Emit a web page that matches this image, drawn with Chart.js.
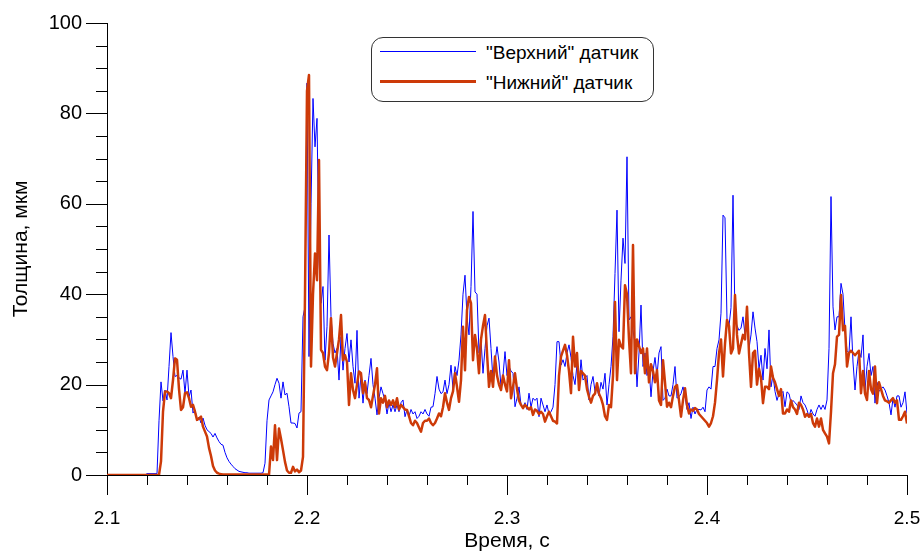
<!DOCTYPE html>
<html>
<head>
<meta charset="utf-8">
<script src="https://cdn.jsdelivr.net/npm/chart.js@4.4.1/dist/chart.umd.min.js"></script>
<style>
html,body{margin:0;padding:0;background:#fff;}
#wrap{position:relative;width:922px;height:552px;overflow:hidden;}
canvas{display:block;}
.lg{position:absolute;font-family:"Liberation Sans",Arial,sans-serif;color:#000;white-space:nowrap;}
#box{left:371px;top:37px;width:283px;height:65px;border:1px solid #333;border-radius:12px;box-sizing:border-box;background:#fff;}
.ln{position:absolute;left:380px;width:96px;}
.tx{font-size:19px;line-height:22px;height:22px;left:486px;}
</style>
</head>
<body>
<div id="wrap">
<canvas id="c" width="922" height="552"></canvas>
<div id="box" class="lg"></div>
<div class="ln" style="top:51px;height:1px;background:#0000ff;"></div>
<div class="ln" style="top:80px;height:3px;background:#cd3a08;"></div>
<div class="lg tx" style="top:42px;">"Верхний" датчик</div>
<div class="lg tx" style="top:72px;">"Нижний" датчик</div>
</div>
<script>
// time axis: 2.100 .. 2.500 s, step 0.001 s
const T_START = 2.1;
const T_STEP = 0.001;
const xTickLabels = ["2.1", "2.2", "2.3", "2.4", "2.5"];
const yTickLabels = ["0", "20", "40", "60", "80", "100"];

// "Верхний" датчик (upper sensor), мкм
const upperSensor = [
 0,0,0,0,0,0,0,0,0,0,
 0,0,0,0,0,0,0,0,0,0,
 0.3,0.3,0.3,0.3,0.3,0.3,12,20.6,16.4,18.8,
 16.6,24,31.5,26.2,21.8,22,21.5,21.2,23.2,18.1,
 23.2,17.3,18.8,13.7,14.4,12.2,12.8,11.5,12.6,11,
 10,9.6,9.2,8.4,9.2,8.2,7.4,6.8,6.6,5,
 3.8,3,2.4,1.9,1.4,1.1,0.8,0.7,0.6,0.5,
 0.5,0.4,0.4,0.4,0.4,0.4,0.4,0.4,0.5,2.6,
 12,16.6,17.5,18.4,20,21.4,20.3,17,20.6,17.7,
 18.1,15.1,11.5,11.5,11.4,10.4,13.7,14,35,37.2,
 86.7,26.2,60,83.3,72.6,78.9,47.6,38,41.7,25.4,
 32.8,53.1,35,29.1,27,28,21,30.6,23.2,28,
 31.3,25,29.9,24,20.3,32,17,22,15.9,21,
 18,22,25.8,20,17,13.3,17,19.5,18,16.6,
 13.5,16,14,15.5,14,15.5,14,16,16.6,12.9,
 14.5,13,14.5,13.5,14,12.5,13,14,13.5,14.5,
 13.5,13,15,15.1,18,21.8,19,18,18.4,21,
 18,20,24.3,19,24,22,25.4,31,40,44.2,
 35,31,41.7,58.3,40.5,40,27,30,22.5,28,
 33,34.7,28,21,25,28.4,25,19.5,22,27.3,
 22,24,23,22.5,15.1,17,19.5,15.5,15,16,
 14.5,18.1,15,17,16.5,17,12.9,17,15.5,14,
 15.5,13.5,14,15,20,29.5,29.5,24.3,25.5,24,
 27,28.8,26,22,20,24.5,19.5,25.5,21,21.5,
 22,16.6,20,21.8,18.5,19,17.5,20.5,19,22.5,
 15.5,20,24,30.6,44.6,58.6,31.7,43.1,52.4,46.8,
 70.4,34.3,35,32,29,19.5,27,37.6,24,27,
 22,24,17.3,23,26,22,27,28.4,16.5,17,
 19,17.5,17.5,20,24,17,17.3,18,19.5,17.5,
 14.5,16,12.5,15,13.5,14.5,14.5,14.4,15,14,
 18.8,19.5,19,24,24,28,29.9,35.8,57.5,56.9,
 34.3,33,37,61.9,34.5,33,32,32.5,35,31,
 33,28,31,36.1,32.5,29.5,23.5,26.5,21,28,
 23.5,32.1,19.5,22,18.5,16.5,18,18,18.5,15.1,
 18.4,18,16,16.5,16,15.5,14.5,17.5,16,15.5,
 14.4,12.9,14.5,13.5,13,14.5,15.5,14.5,15.5,14.5,
 16.6,28,61.6,37.2,32.1,35,35,42.4,40,32,
 27.5,27,35,25,18.8,24,27.5,26,31,18.8,
 24,26.9,22,24,15.9,20.5,18.5,19,19.5,18.8,
 17.5,16,13.3,17,15,17.5,17.5,15,16,18.4,
 13.6
];

// "Нижний" датчик (lower sensor), мкм
const lowerSensor = [
 0,0,0,0,0,0,0,0,0,0,
 0,0,0,0,0,0,0,0,0,0,
 0,0,0,0,0,0,0,3,14,18.4,
 18.5,18.1,17,21,25.8,25.5,19,14.4,15,18.1,
 18.3,17,15.1,15.5,14,12.2,12.5,12.9,10.7,9.6,
 8.5,6,4.2,2,1,0.5,0.3,0.2,0.1,0.1,
 0.1,0.1,0.1,0.1,0.1,0.1,0.1,0.1,0.1,0.1,
 0.1,0.1,0.1,0.1,0.1,0.1,0.1,0.1,0.1,0.1,
 0.1,0,6.3,3.3,11,3.3,10.3,8,5.5,2.9,
 1,0.5,0.5,1.8,0.8,1.2,0.6,1,4,40,
 85,88.5,24,40,49,43.1,69.7,27.7,27,24,
 23.2,27,34.7,26,24,27,30,35.4,25.4,26.5,
 25,15.5,22.5,18.8,17,20,22.9,22.5,18.1,20.5,
 17,16.6,15,17.5,20,23.6,13.6,17,16,17.5,
 15,16.5,15.5,16.5,15,17,14.5,15.5,15,14.5,
 14.4,13,11.5,11,12,11.5,10.5,9.6,11.5,12,
 12,12.5,11.5,11,11.5,12.5,13.6,13,15,18.1,
 16,14.4,17,18.5,22.5,19.5,16.2,21,32.8,23.2,
 36.5,39.4,38,25.4,31,28,22.5,30,33,35.4,
 27,19.5,23,19.5,26.2,22,20,18.8,22,20,
 18.5,25.4,17,19.5,22.5,19,16.5,15.5,14.8,15.5,
 15,14.5,15,13.3,14.5,14.2,13.5,14,13.5,11.8,
 13,14,13,12,11.8,11.4,22,26.2,27.5,28.8,
 26.5,23,18.1,30.6,24,27,18.8,23,22.5,22,
 19,17.3,16,17.5,18,20.3,18,17,15.5,13,
 12.2,15.5,15,22,38.3,21,29.9,28.5,28,42,
 40,30,22.5,50.9,22.5,30,28.5,27,28,22.5,
 28,20.5,24.5,23,20.5,23.2,16.5,15.5,25.4,20.5,
 15.1,16,15,17.5,19.5,19.9,16.5,12.9,16.5,19.2,
 15.5,13.6,14.5,14.2,14.8,14.5,13.5,13,12.5,12,
 11.5,10.7,11.5,13,16,21,26.9,30,21.8,29,
 34.3,33,26.9,28,39.8,31,26.9,29,31,30,
 37.2,27,19.5,27,27.5,20,23.5,21.5,15.9,19.5,
 19.5,19,24,21.5,20.5,19,17.5,19,13.6,13.6,
 14.5,14,16.5,15,14.5,13.5,16,15.5,14.5,12.9,
 13.5,12.9,13.5,11.5,10.7,12.5,10.7,12.5,10,9.2,
 8.5,7,14,22.5,24.5,30.6,31,39.8,32,33,
 24,27,27.5,27,26.5,27,27.5,18.1,23,18,
 16.6,23,19,18,24,15.9,20.5,19,17.5,16.5,
 16.3,16,16.5,17,16,16.5,12.2,12.2,13,14,
 11.4
];

const times = upperSensor.map((_, i) => +(T_START + i * T_STEP).toFixed(3));
const toXY = arr => arr.map((v, i) => ({x: times[i], y: v}));

const X_MIN = 2.1, X_MAX = 2.5, X_MAJOR = 0.1, X_MINOR = 0.02;
const Y_MIN = 0, Y_MAX = 100, Y_MAJOR = 20, Y_MINOR = 5;

const tickMarks = {
  id: 'tickMarks',
  afterDraw(chart) {
    const {ctx, scales: {x, y}} = chart;
    ctx.save();
    ctx.strokeStyle = '#000';
    ctx.lineWidth = 1;
    ctx.beginPath();
    const nx = Math.round((X_MAX - X_MIN) / X_MINOR);
    const per = Math.round(X_MAJOR / X_MINOR);
    for (let k = 0; k <= nx; k++) {
      const px = Math.round(x.getPixelForValue(X_MIN + k * X_MINOR)) + 0.5;
      const len = k % per === 0 ? 20 : 10;
      ctx.moveTo(px, y.bottom);
      ctx.lineTo(px, y.bottom + len);
    }
    const ny = Math.round((Y_MAX - Y_MIN) / Y_MINOR);
    const pery = Math.round(Y_MAJOR / Y_MINOR);
    for (let k = 0; k <= ny; k++) {
      const py = Math.round(y.getPixelForValue(Y_MIN + k * Y_MINOR)) + 0.5;
      const len = k % pery === 0 ? 21 : 11;
      ctx.moveTo(x.left, py);
      ctx.lineTo(x.left - len, py);
    }
    ctx.stroke();
    ctx.restore();
  }
};

const FONT = '"Liberation Sans", Arial, sans-serif';

new Chart(document.getElementById('c'), {
  type: 'line',
  data: {
    datasets: [
      {label: '"Верхний" датчик', data: toXY(upperSensor), borderColor: '#0000ff', borderWidth: 1, pointRadius: 0, tension: 0, order: 1},
      {label: '"Нижний" датчик', data: toXY(lowerSensor), borderColor: '#cd3a08', borderWidth: 2.5, pointRadius: 0, tension: 0, order: 0, borderJoinStyle: 'round'}
    ]
  },
  options: {
    responsive: false,
    animation: false,
    devicePixelRatio: 1,
    layout: {padding: {top: 23, right: 15, left: 0, bottom: 0}},
    plugins: {legend: {display: false}, tooltip: {enabled: false}},
    scales: {
      x: {
        type: 'linear', min: X_MIN, max: X_MAX,
        afterFit: s => { s.height = 77; s.paddingLeft = 0; s.paddingRight = 0; s.paddingTop = 0; s.paddingBottom = 0; },
        grid: {display: false, drawTicks: false},
        border: {display: true, color: '#000', width: 1},
        ticks: {
          stepSize: X_MAJOR, padding: 34, color: '#000', maxRotation: 0,
          font: {family: FONT, size: 19, lineHeight: 1},
          callback: (v) => { const i = Math.round((v - X_MIN) / X_MAJOR); return xTickLabels[i]; }
        },
        title: {display: true, text: 'Время, с', color: '#000', font: {family: FONT, size: 21, lineHeight: 1}, padding: {top: 0, bottom: 0}}
      },
      y: {
        min: Y_MIN, max: Y_MAX,
        afterFit: s => { s.width = 107; s.paddingLeft = 0; s.paddingRight = 0; s.paddingTop = 0; s.paddingBottom = 0; },
        grid: {display: false, drawTicks: false},
        border: {display: true, color: '#000', width: 1},
        ticks: {
          stepSize: Y_MAJOR, padding: 25, color: '#000',
          font: {family: FONT, size: 20, lineHeight: 1},
          callback: (v) => yTickLabels[Math.round(v / Y_MAJOR)]
        },
        title: {display: true, text: 'Толщина, мкм', color: '#000', font: {family: FONT, size: 21, lineHeight: 1}, padding: {top: 11, bottom: 11}}
      }
    }
  },
  plugins: [tickMarks]
});
</script>
</body>
</html>
